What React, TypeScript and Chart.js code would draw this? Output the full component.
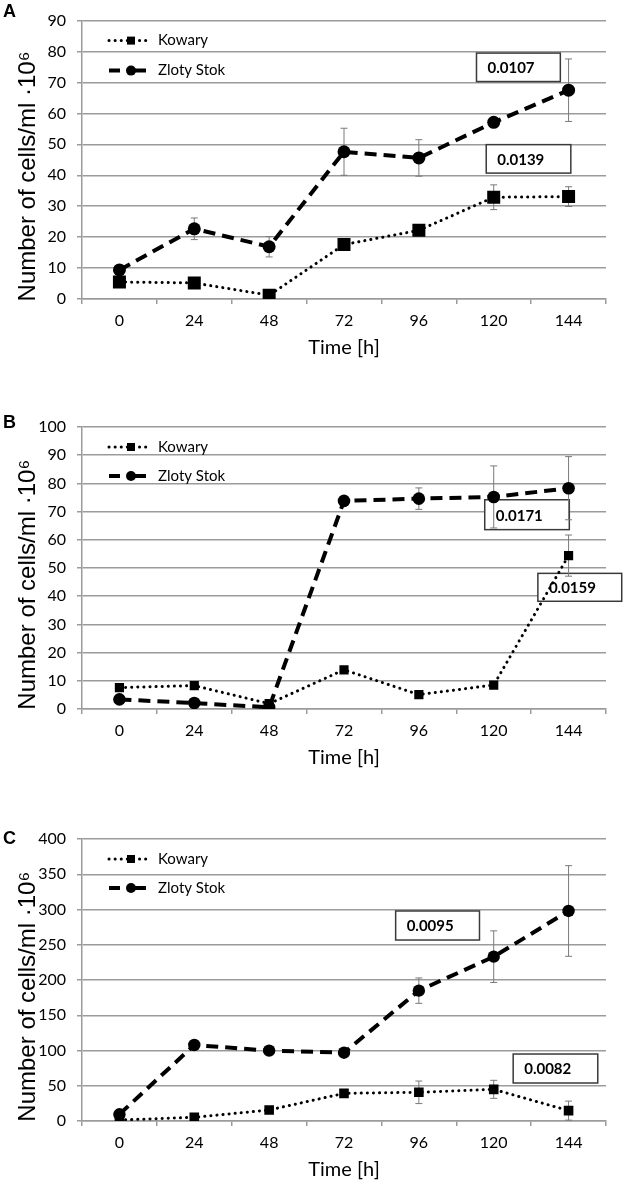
import React, { useEffect, useRef } from 'react';
import { Chart, registerables } from 'chart.js';

Chart.register(...registerables);

// ---------- data ----------
const categories = ['0', '24', '48', '72', '96', '120', '144'];
const seriesNames = ['Kowary', 'Zloty Stok'];
const xAxisTitle = 'Time [h]';
const yAxisTitle = 'Number of cells/ml ·10⁶';

// Panel A
const kowaryA = [5.5, 5.2, 1.2, 17.6, 22.2, 32.9, 33.1];
const kowaryErrA = [0.8, 0.8, 0.8, 1.5, 1.2, 4.0, 3.2];
const zlotyA = [9.4, 22.7, 16.9, 47.6, 45.6, 57.1, 67.5];
const zlotyErrA = [1.0, 3.5, 3.3, 7.6, 5.9, 1.5, 10.1];
const yMaxA = 90;
const yStepA = 10;
const ratesA = ['0.0107', '0.0139'];

// Panel B
const kowaryB = [7.6, 8.3, 1.9, 13.9, 5.1, 8.5, 54.4];
const kowaryErrB = [0.5, 0.5, 0.5, 0.8, 0.5, 0.8, 7.3];
const zlotyB = [3.4, 2.1, 0.6, 73.8, 74.6, 75.2, 78.3];
const zlotyErrB = [0.5, 0.5, 0.3, 1.0, 3.8, 11.0, 11.2];
const yMaxB = 100;
const yStepB = 10;
const ratesB = ['0.0171', '0.0159'];

// Panel C
const kowaryC = [1.4, 5.2, 15.6, 39.2, 40.7, 44.9, 14.7];
const kowaryErrC = [0.5, 1.0, 2.0, 3.0, 16.0, 12.8, 13.5];
const zlotyC = [9.5, 107.8, 99.8, 96.9, 184.9, 233.1, 297.9];
const zlotyErrC = [1.0, 3.0, 3.0, 3.0, 18.0, 36.6, 64.3];
const yMaxC = 400;
const yStepC = 50;
const ratesC = ['0.0095', '0.0082'];

// ---------- styling / layout ----------
const GRID = '#9b9b9b';
const TICK_FONT = { family: 'Lato, "Open Sans", sans-serif', size: 16 };

type Box = { text: string; x0: number; x1: number; y0: number; y1: number };
type PanelCfg = {
  letter: string;
  top: number;
  height: number;
  padTop: number;
  letterY: number;
  yMax: number;
  yStep: number;
  kow: number[];
  kowErr: number[];
  zl: number[];
  zlErr: number[];
  squareR: number;
  circleR: number;
  legendGap: number;
  boxes: Box[];
};

const panels: PanelCfg[] = [
  {
    letter: 'A', top: 0, height: 361, padTop: 16, letterY: 12.5,
    yMax: yMaxA, yStep: yStepA, kow: kowaryA, kowErr: kowaryErrA, zl: zlotyA, zlErr: zlotyErrA,
    squareR: 9.2, circleR: 6.5, legendGap: 30,
    boxes: [
      { text: ratesA[0], x0: 4.77, x1: 5.89, y0: 79.5, y1: 70.3 },
      { text: ratesA[1], x0: 4.9, x1: 6.03, y0: 49.9, y1: 40.7 },
    ],
  },
  {
    letter: 'B', top: 380, height: 391, padTop: 47, letterY: 43.5,
    yMax: yMaxB, yStep: yStepB, kow: kowaryB, kowErr: kowaryErrB, zl: zlotyB, zlErr: zlotyErrB,
    squareR: 6.5, circleR: 6.3, legendGap: 29,
    boxes: [
      { text: ratesB[0], x0: 4.88, x1: 6.01, y0: 74.2, y1: 63.6 },
      { text: ratesB[1], x0: 5.59, x1: 6.71, y0: 48.1, y1: 38.2 },
    ],
  },
  {
    letter: 'C', top: 790, height: 393, padTop: 49, letterY: 49,
    yMax: yMaxC, yStep: yStepC, kow: kowaryC, kowErr: kowaryErrC, zl: zlotyC, zlErr: zlotyErrC,
    squareR: 6.8, circleR: 6.2, legendGap: 29,
    boxes: [
      { text: ratesC[0], x0: 3.69, x1: 4.81, y0: 297.9, y1: 256.7 },
      { text: ratesC[1], x0: 5.26, x1: 6.39, y0: 95, y1: 53.9 },
    ],
  },
];

function makePlugin(p: PanelCfg) {
  return {
    id: 'extras' + p.letter,
    beforeDatasetsDraw(chart: any) {
      const ctx = chart.ctx;
      const xs = chart.scales.x;
      const ys = chart.scales.y;
      ctx.save();
      // annotation boxes
      for (const b of p.boxes) {
        const l = xs.getPixelForValue(b.x0);
        const r = xs.getPixelForValue(b.x1);
        const t = ys.getPixelForValue(b.y0);
        const bo = ys.getPixelForValue(b.y1);
        ctx.fillStyle = '#ffffff';
        ctx.fillRect(l, t, r - l, bo - t);
        ctx.strokeStyle = '#3a3a3a';
        ctx.lineWidth = 1.5;
        ctx.strokeRect(l, t, r - l, bo - t);
        ctx.fillStyle = '#000';
        ctx.font = 'bold 15px Lato, "Open Sans", sans-serif';
        ctx.textAlign = 'left';
        ctx.textBaseline = 'middle';
        ctx.fillText(b.text, l + 11, (t + bo) / 2 + 1);
      }
      // error bars
      ctx.strokeStyle = '#7a7a7a';
      ctx.lineWidth = 1;
      const sets = [
        { v: p.kow, e: p.kowErr },
        { v: p.zl, e: p.zlErr },
      ];
      sets.forEach((s, di) => {
        const meta = chart.getDatasetMeta(di);
        s.e.forEach((err, i) => {
          const el = meta.data[i];
          if (!el) return;
          const px = el.x;
          const yt = ys.getPixelForValue(s.v[i] + err);
          const yb = ys.getPixelForValue(Math.max(0, s.v[i] - err));
          ctx.beginPath();
          ctx.moveTo(px, yt);
          ctx.lineTo(px, yb);
          ctx.moveTo(px - 3.5, yt);
          ctx.lineTo(px + 3.5, yt);
          ctx.moveTo(px - 3.5, yb);
          ctx.lineTo(px + 3.5, yb);
          ctx.stroke();
        });
      });
      ctx.restore();
    },
    afterDatasetsDraw(chart: any) {
      const ctx = chart.ctx;
      const area = chart.chartArea;
      ctx.save();
      const ly1 = area.top + 20;
      const ly2 = ly1 + p.legendGap;
      // Kowary legend entry
      ctx.strokeStyle = '#000';
      ctx.lineWidth = 3;
      ctx.lineCap = 'round';
      ctx.setLineDash([0.1, 6]);
      ctx.beginPath();
      ctx.moveTo(109, ly1);
      ctx.lineTo(150, ly1);
      ctx.stroke();
      ctx.setLineDash([]);
      ctx.fillStyle = '#000';
      ctx.fillRect(127, ly1 - 4, 8, 8);
      // Zloty Stok legend entry
      ctx.lineCap = 'butt';
      ctx.lineWidth = 4;
      ctx.beginPath();
      ctx.moveTo(109, ly2);
      ctx.lineTo(120, ly2);
      ctx.moveTo(134, ly2);
      ctx.lineTo(146, ly2);
      ctx.stroke();
      ctx.beginPath();
      ctx.arc(131, ly2, 5, 0, Math.PI * 2);
      ctx.fill();
      ctx.font = '15px Lato, "Open Sans", sans-serif';
      ctx.textAlign = 'left';
      ctx.textBaseline = 'middle';
      ctx.fillText(seriesNames[0], 158, ly1);
      ctx.fillText(seriesNames[1], 158, ly2);
      // panel letter
      ctx.font = 'bold 18px "Liberation Sans", Arial, sans-serif';
      ctx.fillText(p.letter, 3, p.letterY);
      ctx.restore();
    },
  };
}

function Panel({ p }: { p: PanelCfg }) {
  const ref = useRef<HTMLCanvasElement | null>(null);
  useEffect(() => {
    if (!ref.current) return;
    const chart = new Chart(ref.current, {
      type: 'line',
      data: {
        labels: categories,
        datasets: [
          {
            label: seriesNames[0],
            data: p.kow,
            borderColor: '#000',
            backgroundColor: '#000',
            borderWidth: 3,
            borderDash: [0.1, 6],
            borderCapStyle: 'round',
            pointStyle: 'rect',
            pointRadius: p.squareR,
            pointBackgroundColor: '#000',
            pointBorderColor: '#000',
            pointBorderWidth: 0,
            tension: 0,
          },
          {
            label: seriesNames[1],
            data: p.zl,
            borderColor: '#000',
            backgroundColor: '#000',
            borderWidth: 4,
            borderDash: [12, 7],
            borderCapStyle: 'butt',
            pointStyle: 'circle',
            pointRadius: p.circleR,
            pointBackgroundColor: '#000',
            pointBorderColor: '#000',
            pointBorderWidth: 0,
            tension: 0,
          },
        ],
      },
      options: {
        responsive: false,
        animation: false,
        events: [],
        layout: { padding: { top: p.padTop, right: 24, bottom: 0, left: 0 } },
        plugins: {
          legend: { display: false },
          tooltip: { enabled: false },
          title: { display: false },
        },
        scales: {
          x: {
            type: 'category',
            offset: true,
            grid: {
              display: true,
              drawOnChartArea: false,
              drawTicks: true,
              tickLength: 5,
              offset: true,
              color: GRID,
              lineWidth: 1.5,
            },
            border: { display: true, color: GRID, width: 1.5 },
            ticks: { font: TICK_FONT, color: '#000', padding: 7, maxRotation: 0, autoSkip: false },
            title: {
              display: true,
              text: xAxisTitle,
              color: '#000',
              font: { family: 'Lato, "Open Sans", sans-serif', size: 20 },
              padding: { top: 0, bottom: 1 },
            },
            afterFit: (s: any) => {
              s.height = 62;
            },
          },
          y: {
            min: 0,
            max: p.yMax,
            grid: { color: GRID, lineWidth: 1.5, drawTicks: true, tickLength: 5 },
            border: { display: true, color: GRID, width: 1.5 },
            ticks: { stepSize: p.yStep, font: TICK_FONT, color: '#000', padding: 11 },
            title: {
              display: true,
              text: yAxisTitle + '     ',
              color: '#000',
              font: { family: '"Liberation Sans", Arial, sans-serif', size: 24 },
              padding: { top: 14, bottom: 0 },
            },
            afterFit: (s: any) => {
              s.width = 82;
            },
          },
        },
      },
      plugins: [makePlugin(p)],
    } as any);
    return () => chart.destroy();
  }, [p]);
  return (
    <canvas
      ref={ref}
      width={630}
      height={p.height}
      style={{ position: 'absolute', left: 0, top: p.top, width: 630, height: p.height }}
    />
  );
}

export default function App() {
  return (
    <div style={{ position: 'absolute', left: 0, top: 0, width: 630, height: 1185, background: '#fff' }}>
      {panels.map((p) => (
        <Panel key={p.letter} p={p} />
      ))}
    </div>
  );
}
